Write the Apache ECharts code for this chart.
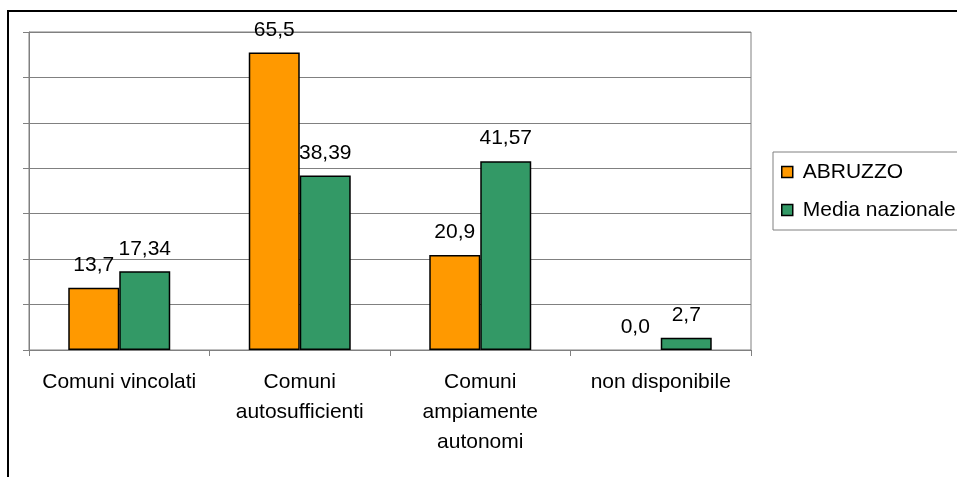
<!DOCTYPE html>
<html>
<head>
<meta charset="utf-8">
<script src="https://cdn.jsdelivr.net/npm/echarts@6/dist/echarts.min.js"></script>
<style>
html,body{margin:0;padding:0;background:#fff;}
#chart{width:957px;height:477px;}
</style>
</head>
<body>
<div id="chart"></div>
<script>
const categories = ['Comuni vincolati', 'Comuni\nautosufficienti', 'Comuni\nampiamente\nautonomi', 'non disponibile'];
const seriesNames = ['ABRUZZO', 'Media nazionale'];
const abruzzo = [13.7, 65.5, 20.9, 0.0];
const mediaNazionale = [17.34, 38.39, 41.57, 2.7];
const yTicks = [0, 10, 20, 30, 40, 50, 60, 70];

const FONT = 'Liberation Sans, Arial, sans-serif';
const FS = 21;
const chart = echarts.init(document.getElementById('chart'), null, {renderer: 'canvas'});

const fmt1 = p => p.value.toFixed(1).replace('.', ',');
const fmt2 = p => String(p.value).replace('.', ',');
const toItems = arr => arr.map(v => v === 0 ? {value: v, itemStyle: {borderWidth: 0}} : v);

chart.setOption({
  animation: false,
  backgroundColor: '#fff',
  textStyle: {fontFamily: FONT},
  graphic: [{
    type: 'rect', z: 100, silent: true,
    shape: {x: 8, y: 11, width: 1100, height: 600},
    style: {fill: 'none', stroke: '#000', lineWidth: 2}
  }],
  grid: {
    left: 29, right: 206, top: 32, bottom: 127,
    show: true, borderColor: '#808080', borderWidth: 1, backgroundColor: 'transparent'
  },
  legend: {
    orient: 'vertical',
    left: 773, top: 152,
    padding: [9, 60, 9, 8],
    itemGap: 16,
    itemWidth: 11, itemHeight: 11,
    icon: 'rect',
    borderColor: '#808080', borderWidth: 1,
    textStyle: {fontFamily: FONT, fontSize: FS, color: '#000', padding: [0, 0, 0, 5], lineHeight: 22},
    itemStyle: {borderColor: '#000', borderWidth: 1.5},
    data: seriesNames
  },
  xAxis: {
    type: 'category',
    data: categories,
    boundaryGap: true,
    axisLine: {lineStyle: {color: '#808080', width: 1}},
    axisTick: {show: true, length: 6, lineStyle: {color: '#808080'}},
    axisLabel: {fontFamily: FONT, fontSize: FS, color: '#000', lineHeight: 30, margin: 17, interval: 0}
  },
  yAxis: {
    type: 'value',
    min: yTicks[0], max: yTicks[yTicks.length - 1], interval: yTicks[1] - yTicks[0],
    axisLine: {show: true, lineStyle: {color: '#808080', width: 1}},
    axisTick: {show: true, length: 6, inside: false, lineStyle: {color: '#808080'}},
    axisLabel: {show: false},
    splitLine: {show: true, lineStyle: {color: '#808080', width: 1}}
  },
  series: [
    {
      name: seriesNames[0], type: 'bar', data: toItems(abruzzo),
      barGap: '0%', barCategoryGap: '43.5%',
      itemStyle: {color: '#FF9900', borderColor: '#000', borderWidth: 1.5},
      label: {show: true, position: 'top', distance: 12, formatter: fmt1,
        fontFamily: FONT, fontSize: FS, color: '#000'}
    },
    {
      name: seriesNames[1], type: 'bar', data: toItems(mediaNazionale),
      barGap: '0%', barCategoryGap: '43.5%',
      itemStyle: {color: '#339966', borderColor: '#000', borderWidth: 1.5},
      label: {show: true, position: 'top', distance: 12, formatter: fmt2,
        fontFamily: FONT, fontSize: FS, color: '#000'}
    }
  ]
});
</script>
</body>
</html>
